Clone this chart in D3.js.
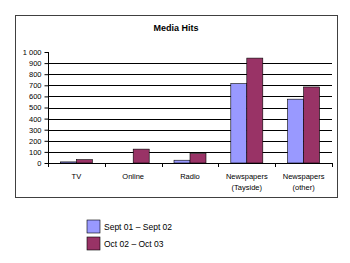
<!doctype html>
<html>
<head>
<style>
  body { margin: 0; background: #fff; }
  text { font-family: "Liberation Sans", Arial, sans-serif; fill: #000; }
</style>
<script src="https://d3js.org/d3.v7.min.js"></script>
</head>
<body>
<svg width="350" height="263"></svg>
<script>
var categories = [["TV"], ["Online"], ["Radio"], ["Newspapers", "(Tayside)"], ["Newspapers", "(other)"]];
var seriesNames = ["Sept 01 \u2013 Sept 02", "Oct 02 \u2013 Oct 03"];
var sept01 = [10, 0, 25, 715, 575];
var oct02 = [30, 125, 85, 945, 685];
var yTicks = [0, 100, 200, 300, 400, 500, 600, 700, 800, 900, 1000];
var colors = ["#9999ff", "#993366"];

var svg = d3.select("svg");

// chart frame
svg.append("rect")
   .attr("x", 15.5).attr("y", 15.5)
   .attr("width", 322).attr("height", 182)
   .attr("fill", "#fff")
   .attr("stroke", "#404040")
   .attr("stroke-width", 1);

svg.append("text")
   .attr("x", 176).attr("y", 31)
   .attr("text-anchor", "middle")
   .attr("font-size", "9px")
   .attr("font-weight", "bold")
   .text("Media Hits");

var plotLeft = 48, plotRight = 332, plotTop = 52, plotBottom = 163;

var x0 = d3.scaleBand().domain(d3.range(categories.length)).range([plotLeft, plotRight]);
var gap = 12.4;
var x1 = d3.scaleBand().domain([0, 1]).range([gap, x0.bandwidth() - gap]);
var y = d3.scaleLinear().domain([0, 1000]).range([plotBottom, plotTop]);

// gridlines
svg.append("g").selectAll("line")
   .data(yTicks.filter(function(d) { return d > 0 && d < 1000; }))
   .enter().append("line")
   .attr("x1", plotLeft).attr("x2", plotRight)
   .attr("y1", function(d) { return Math.round(y(d)) + 0.5; })
   .attr("y2", function(d) { return Math.round(y(d)) + 0.5; })
   .attr("stroke", "#000").attr("stroke-width", 1);

// y axis
var yAxis = svg.append("g")
   .attr("transform", "translate(" + (plotLeft + 0.5) + ",0)")
   .call(d3.axisLeft(y).tickValues(yTicks).tickSize(4).tickPadding(3)
        .tickFormat(function(d) { return d === 1000 ? "1 000" : d; }));
yAxis.selectAll("text").attr("font-size", "7.5px").attr("font-family", "Liberation Sans, Arial, sans-serif");
yAxis.selectAll("line, path").attr("stroke", "#000");
yAxis.select(".domain").attr("d", "M0," + plotTop + "V" + plotBottom);

// bars
var data = [sept01, oct02];
data.forEach(function(series, s) {
  svg.append("g").selectAll("rect")
     .data(series)
     .enter().append("rect")
     .attr("x", function(d, i) { return x0(i) + x1(s); })
     .attr("y", function(d) { return y(d); })
     .attr("width", x1.bandwidth())
     .attr("height", function(d) { return plotBottom - y(d); })
     .attr("fill", colors[s])
     .attr("stroke", "#000")
     .attr("stroke-width", 0.6);
});

// x axis
svg.append("line")
   .attr("x1", plotLeft).attr("x2", plotRight)
   .attr("y1", plotBottom + 0.5).attr("y2", plotBottom + 0.5)
   .attr("stroke", "#000");
svg.append("g").selectAll("line")
   .data(d3.range(categories.length + 1))
   .enter().append("line")
   .attr("x1", function(i) { return Math.round(plotLeft + i * x0.bandwidth()) + 0.5; })
   .attr("x2", function(i) { return Math.round(plotLeft + i * x0.bandwidth()) + 0.5; })
   .attr("y1", plotBottom).attr("y2", plotBottom + 4)
   .attr("stroke", "#000");

var labels = svg.append("g").selectAll("text")
   .data(categories)
   .enter().append("text")
   .attr("x", function(d, i) { return x0(i) + x0.bandwidth() / 2; })
   .attr("y", 179)
   .attr("text-anchor", "middle")
   .attr("font-size", "7.5px");
labels.selectAll("tspan")
   .data(function(d) { return d; })
   .enter().append("tspan")
   .attr("x", function() { return d3.select(this.parentNode).attr("x"); })
   .attr("dy", function(d, i) { return i === 0 ? 0 : 11; })
   .text(function(d) { return d; });

// legend
var legend = svg.append("g").selectAll("g")
   .data(seriesNames)
   .enter().append("g")
   .attr("transform", function(d, i) { return "translate(87," + (220 + i * 17) + ")"; });
legend.append("rect")
   .attr("width", 13).attr("height", 13)
   .attr("fill", function(d, i) { return colors[i]; })
   .attr("stroke", "#000").attr("stroke-width", 0.6);
legend.append("text")
   .attr("x", 17).attr("y", 9.5)
   .attr("font-size", "8.5px")
   .text(function(d) { return d; });
</script>
</body>
</html>
